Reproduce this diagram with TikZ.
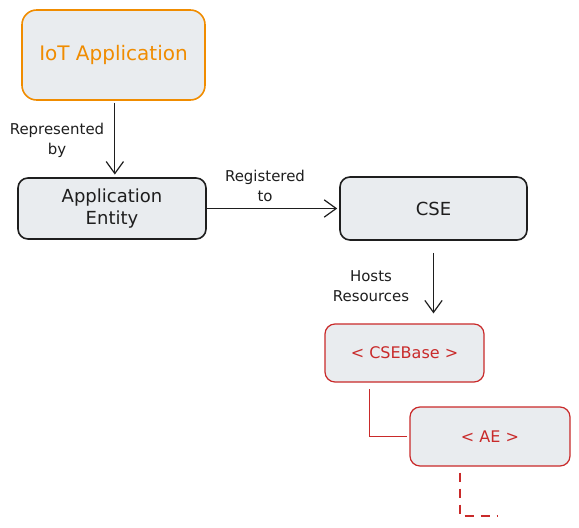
\documentclass[tikz,border=0pt]{standalone}
\usepackage{fontspec}
\setmainfont{DejaVu Sans}
\usetikzlibrary{arrows.meta}

\definecolor{boxfill}{HTML}{E9ECEF}
\definecolor{inkdark}{HTML}{1E1E1E}
\definecolor{inkorange}{HTML}{F08C00}
\definecolor{inkred}{HTML}{C92A2A}

\tikzset{
    sketchbox/.style={draw=inkdark, fill=boxfill, line width=1.2pt, rounded corners=7.5pt, align=center, font=\fontsize{13.5}{17}\selectfont, text=inkdark},
    appbox/.style={sketchbox, draw=inkorange, text=inkorange, rounded corners=11pt, font=\fontsize{15}{18}\selectfont},
    resbox/.style={sketchbox, draw=inkred, text=inkred, line width=0.9pt, font=\fontsize{12}{15}\selectfont},
    flow/.style={draw=inkdark, line width=0.9pt, -{Straight Barb[length=9pt, width=13pt]}},
    link/.style={draw=inkred, line width=0.8pt},
    lbl/.style={align=center, font=\fontsize{11.2}{15}\selectfont, text=inkdark, inner sep=1pt}
}

\begin{document}
\begin{tikzpicture}[x=0.75pt, y=-0.75pt]

    \useasboundingbox (0,0) rectangle (579,528);

    % Application side
    \node[appbox, minimum width=137.25pt, minimum height=67.5pt] (iot) at (113.5,55) {IoT Application};
    \node[sketchbox, minimum width=141pt, minimum height=45.75pt] (ent) at (112,208.5) {Application\\Entity};

    % Common services side
    \node[sketchbox, minimum width=140.25pt, minimum height=47.25pt] (cse) at (433.5,208.5) {CSE};

    % Resource tree
    \node[resbox, minimum width=119.25pt, minimum height=43.5pt] (base) at (404.5,353) {< CSEBase >};
    \node[resbox, minimum width=120pt, minimum height=44.25pt] (ae) at (490,436.5) {< AE >};
    \coordinate (more) at (497,516);

    % Connectors
    \draw[flow, shorten <=1.5pt, shorten >=2pt] ([xshift=1pt]iot.south) -- ([xshift=1pt]iot.south |- ent.north);
    \draw[flow, shorten >=1.5pt] (ent.east) -- (cse.west);
    \draw[flow, shorten <=9pt, shorten >=7.5pt] (cse.south) -- (cse.south |- base.north);
    \draw[link, shorten <=5pt, shorten >=2pt] ([xshift=-26pt]base.south) |- (ae.west);
    \draw[link, dashed, dash pattern=on 7pt off 5pt, shorten <=4.5pt] ([xshift=-22.5pt]ae.south) |- (more);

    % Labels
    \node[lbl] (lblrep) at (57,140) {Represented\\by};
    \node[lbl] (lblreg) at (265,186) {Registered\\to};
    \node[lbl] (lblhost) at (371,286) {Hosts\\Resources};

\end{tikzpicture}
\end{document}
